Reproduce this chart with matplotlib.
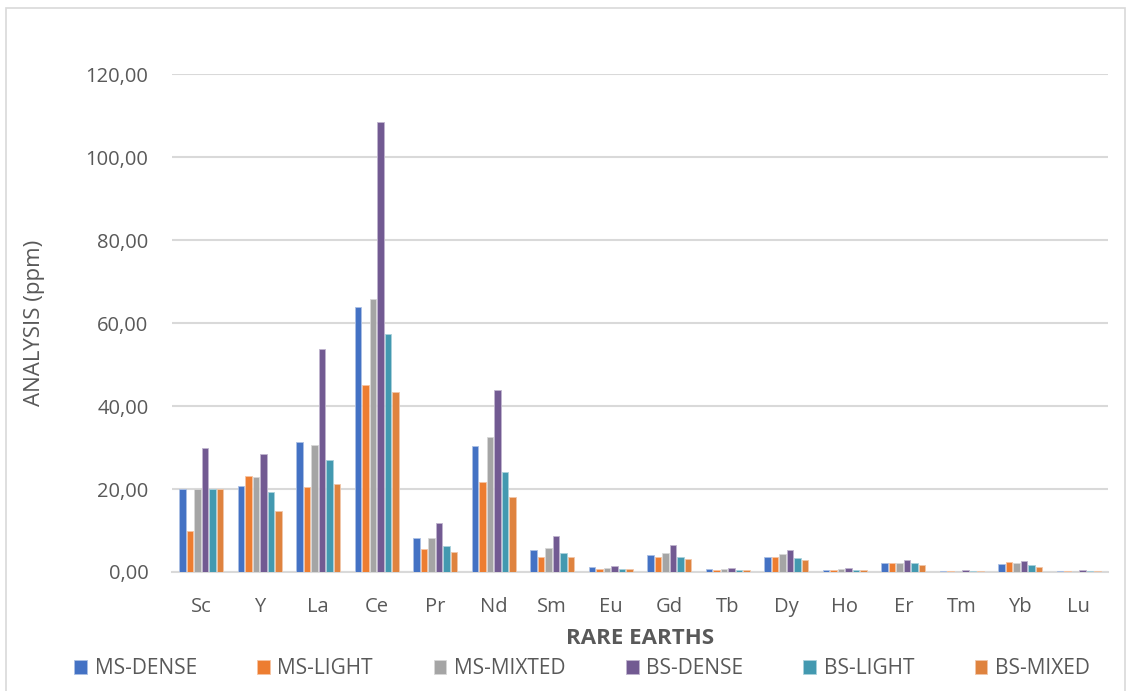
import matplotlib
matplotlib.use("Agg")
import matplotlib.pyplot as plt
import numpy as np
from matplotlib.ticker import FuncFormatter
from matplotlib.patches import Rectangle
from matplotlib.colors import to_rgb

categories = ["Sc", "Y", "La", "Ce", "Pr", "Nd", "Sm", "Eu", "Gd", "Tb", "Dy", "Ho", "Er", "Tm", "Yb", "Lu"]
series_names = ["MS-DENSE", "MS-LIGHT", "MS-MIXTED", "BS-DENSE", "BS-LIGHT", "BS-MIXED"]
ms_dense  = [20.0, 20.8, 31.3, 64.0, 8.1, 30.3, 5.3, 1.2, 4.2, 0.7, 3.6, 0.6, 2.1, 0.3, 1.9, 0.35]
ms_light  = [10.0, 23.2, 20.6, 45.0, 5.5, 21.8, 3.5, 0.8, 3.6, 0.6, 3.5, 0.6, 2.1, 0.25, 2.3, 0.25]
ms_mixted = [20.0, 23.0, 30.7, 65.8, 8.1, 32.5, 5.8, 1.0, 4.7, 0.7, 4.3, 0.7, 2.1, 0.25, 2.1, 0.25]
bs_dense  = [30.0, 28.5, 53.8, 108.5, 11.8, 44.0, 8.7, 1.5, 6.5, 0.9, 5.2, 1.0, 3.0, 0.45, 2.7, 0.5]
bs_light  = [20.0, 19.3, 27.0, 57.5, 6.3, 24.0, 4.5, 0.7, 3.7, 0.5, 3.4, 0.6, 2.1, 0.25, 1.6, 0.25]
bs_mixed  = [20.0, 14.7, 21.2, 43.3, 4.9, 18.0, 3.5, 0.7, 3.2, 0.4, 2.9, 0.45, 1.6, 0.2, 1.3, 0.2]
series = [ms_dense, ms_light, ms_mixted, bs_dense, bs_light, bs_mixed]
colors = ["#4472C4", "#ED7D31", "#A5A5A5", "#725A92", "#4399B0", "#DF833F"]

W, H = 1126, 691
fig = plt.figure(figsize=(W/100, H/100), dpi=100)
font = "Open Sans"
txtc = "#595959"

# chart border
fig.patches.append(Rectangle((6/W, -0.05), (1125-6)/W, 1 - 8/H + 0.05, transform=fig.transFigure,
                             fill=False, edgecolor="#D9D9D9", linewidth=1.2))

left, right, top, bottom = 172, 1108, 74.3, 572
ax = fig.add_axes([left/W, 1-bottom/H, (right-left)/W, (bottom-top)/H])
x = np.arange(len(categories))
bw = 0.128
for i, (vals, c, name) in enumerate(zip(series, colors, series_names)):
    rgb = np.array(to_rgb(c))
    edge = tuple(rgb + (1 - rgb) * 0.55)
    ax.bar(x + (i - 2.5)*bw, vals, width=bw*0.92, color=c, edgecolor=edge, linewidth=0.6,
           label=name, zorder=3)

ax.set_xlim(-0.5, len(categories) - 0.5)
ax.set_ylim(0, 120)
ax.set_yticks(np.arange(0, 121, 20))
ax.yaxis.set_major_formatter(FuncFormatter(lambda v, p: f"{v:.2f}".replace(".", ",")))
ax.set_xticks(x)
ax.set_xticklabels(categories)
ax.grid(axis="y", color="#D9D9D9", linewidth=1.5, zorder=0)
for s in ["top", "right", "left"]:
    ax.spines[s].set_visible(False)
ax.spines["bottom"].set_color("#D9D9D9")
ax.spines["bottom"].set_linewidth(1.5)
ax.spines["bottom"].set_zorder(2)
ax.tick_params(axis="both", length=0, labelcolor=txtc, labelsize=14.5)
ax.tick_params(axis="y", pad=17)
ax.tick_params(axis="x", pad=18)
for lab in ax.get_xticklabels() + ax.get_yticklabels():
    lab.set_fontfamily(font)

fig.text(35/W, 1-323/H, "ANALYSIS (ppm)", rotation=90, ha="center", va="center",
         fontsize=16, color=txtc, family=font)
fig.text(640/W, 1-638/H, "RARE EARTHS", ha="center", va="center", fontsize=16,
         fontweight="bold", color=txtc, family=font)

leg = fig.legend(loc="center", bbox_to_anchor=(582/W, 1-669/H), ncol=6, frameon=False,
                 prop={"family": font, "size": 15}, labelcolor=txtc,
                 handlelength=0.62, handleheight=0.62, handletextpad=0.35, columnspacing=2.9)

fig.savefig("out.png", dpi=100)
